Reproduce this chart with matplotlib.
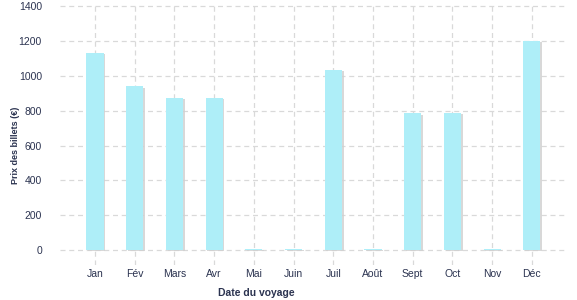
import matplotlib
matplotlib.use("Agg")
import matplotlib.pyplot as plt
import matplotlib.patheffects as pe

mois = ['Jan', 'Fév', 'Mars', 'Avr', 'Mai', 'Juin', 'Juil', 'Août', 'Sept', 'Oct', 'Nov', 'Déc']
prix = [1135, 940, 875, 875, 6, 6, 1037, 6, 785, 790, 6, 1203]
y_ticks = [0, 200, 400, 600, 800, 1000, 1200, 1400]

texte = '#2b3350'
plt.rcParams['font.family'] = ['Liberation Sans', 'DejaVu Sans']

fig = plt.figure(figsize=(5.77, 3.0), dpi=100)
ax = fig.add_axes([0.104, 0.117, 0.875, 0.873])

x = range(len(mois))
ax.bar(x, prix, width=0.43, color='#aeeef8', zorder=3,
       path_effects=[pe.SimplePatchShadow(offset=(1.2, -1), shadow_rgbFace='#cfcfcf', alpha=0.8), pe.Normal()])

ax.set_xlim(-0.88, 11.83)
ax.set_ylim(-86, 1420)
ax.set_yticks(y_ticks)
ax.set_xticks(list(x))
ax.set_xticklabels(mois)

ax.grid(True, color='#d9d9d9', linestyle=(0, (4, 3)), linewidth=0.9, zorder=0)
for s in ax.spines.values():
    s.set_visible(False)
ax.tick_params(length=0, labelsize=7.5, colors=texte)
ax.tick_params(axis='y', pad=13)
ax.tick_params(axis='x', pad=3)

# titres des axes
fig.text(0.026, 0.515, 'Prix des billets (€)', rotation=90, ha='center', va='center',
         fontsize=6.5, fontweight='bold', color=texte)
fig.text(0.444, 0.023, 'Date du voyage', ha='center', va='center',
         fontsize=7.5, fontweight='bold', color=texte)

fig.savefig('out.png', dpi=100)
